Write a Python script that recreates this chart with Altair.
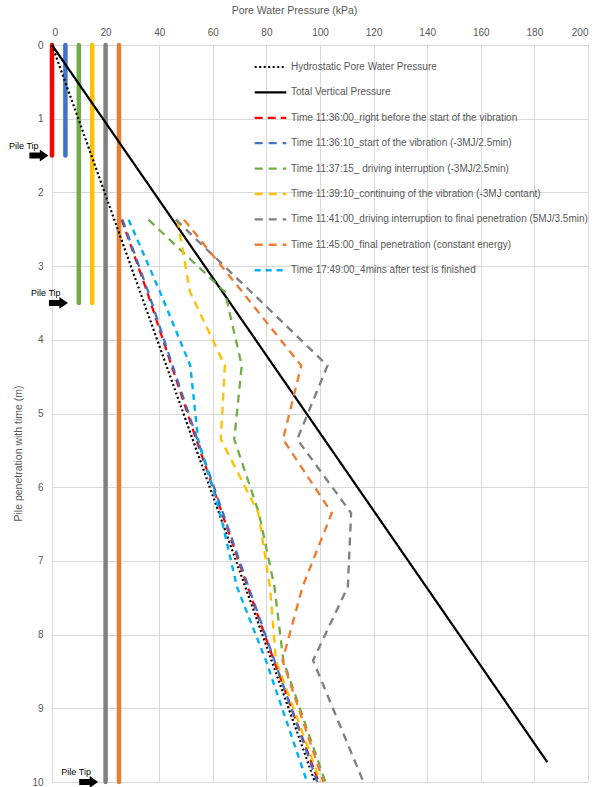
import altair as alt
import pandas as pd

# Depths (m) of the pore pressure readings along the pile
depth = [2.37, 3.35, 4.35, 5.35, 6.35, 7.35, 8.35, 10.0]

# Pore water pressure (kPa) at each reading depth
p_113600 = [26.0, 35.5, 44.6, 53.8, 63.4, 73.0, 82.8, 99.5]
p_113610 = [26.3, 35.9, 45.0, 54.2, 63.8, 73.3, 83.0, 99.0]
p_113715 = [36.0, 64.5, 70.8, 68.0, 77.2, 83.0, 86.3, 102.0]
p_113910 = [46.8, 51.5, 64.5, 63.0, 77.0, 81.3, 83.6, 100.2]
p_114100 = [46.2, 74.3, 102.8, 91.5, 111.6, 110.4, 97.4, 116.2]
p_114500 = [49.3, 71.0, 93.0, 86.2, 104.4, 93.5, 86.0, 101.3]
p_174900 = [28.6, 40.3, 51.6, 54.5, 62.7, 69.0, 79.8, 95.2]

# Hydrostatic pore water pressure
hydro_depth = [0, 1, 2, 3, 4, 5, 6, 7, 8, 9, 10]
hydro_pwp = [0.0, 9.81, 19.62, 29.43, 39.24, 49.05, 58.86, 68.67, 78.48, 88.29, 98.1]

# Total vertical pressure
total_depth = [0.0, 9.73]
total_pressure = [0.0, 184.8]

# Pile position bars for each stage
bar_pressure = [0, 5, 10, 15, 20, 25]
bar_depth_end = [1.5, 1.5, 3.5, 3.5, 10.0, 10.0]
bar_colors = ["#FF0000", "#4472C4", "#70AD47", "#FFC000", "#808080", "#ED7D31"]

# Pile tip markers
tip_depth = [1.5, 3.5, 10.0]
tip_arrow_x = [-4.9, 2.4, 13.7]
tip_label_x = [-10.5, -2.3, 9.0]

series_names = [
    "Hydrostatic Pore Water Pressure",
    "Total Vertical Pressure",
    "Time 11:36:00_right before the start of the vibration",
    "Time 11:36:10_start of the vibration (-3MJ/2.5min)",
    "Time 11:37:15_ driving interruption (-3MJ/2.5min)",
    "Time 11:39:10_continuing of the vibration  (-3MJ contant)",
    "Time 11:41:00_driving interruption to final penetration (5MJ/3.5min)",
    "Time 11:45:00_final penetration (constant energy)",
    "Time 17:49:00_4mins after test is finished",
]
series_colors = ["#000000", "#000000", "#FF0000", "#4472C4", "#70AD47",
                 "#FFC000", "#808080", "#ED7D31", "#00B0F0"]
series_dash = [[2, 2.5], [1, 0], [8, 5], [8, 6], [8, 6], [8, 6], [8, 6], [8, 6], [6, 5]]
series_width = [2.2, 2.4, 2.6, 2.6, 3.0, 2.6, 3.0, 3.0, 2.0]

rows = []
for d, p in zip(hydro_depth, hydro_pwp):
    rows.append({"series": series_names[0], "depth": d, "pressure": p})
for d, p in zip(total_depth, total_pressure):
    rows.append({"series": series_names[1], "depth": d, "pressure": p})
for name, vals in zip(series_names[2:], [p_113600, p_113610, p_113715, p_113910,
                                          p_114100, p_114500, p_174900]):
    for d, p in zip(depth, vals):
        rows.append({"series": name, "depth": d, "pressure": p})
lines_df = pd.DataFrame(rows)

bars_df = pd.DataFrame({
    "pressure": bar_pressure,
    "depth": [0.0] * len(bar_pressure),
    "depth_end": bar_depth_end,
    "color": bar_colors,
})

tips_df = pd.DataFrame({
    "pressure": tip_arrow_x,
    "label_x": tip_label_x,
    "depth": tip_depth,
    "label": ["Pile Tip"] * len(tip_depth),
})

FONT = "Liberation Sans"
GREY = "#595959"

x_enc = alt.X(
    "pressure:Q",
    scale=alt.Scale(domain=[0, 200], nice=False, zero=False),
    axis=alt.Axis(
        orient="top", values=list(range(0, 201, 20)), format="d",
        title="Pore Water Pressure (kPa)",
        labelPadding=8, titleX=242, titleY=-35, titleBaseline="middle",
    ),
)
y_enc = alt.Y(
    "depth:Q",
    scale=alt.Scale(domain=[0, 10], reverse=True, nice=False, zero=False),
    axis=alt.Axis(
        values=list(range(0, 11)), format="d", title="Pile penetration with time (m)",
        labelPadding=9, titleX=-29, titleY=408, titleAngle=-90,
    ),
)

legend = alt.Legend(
    orient="none", legendX=201, legendY=16, title=None,
    symbolType="stroke", symbolSize=1000, clipHeight=12, rowPadding=13.4,
    labelFont=FONT, labelFontSize=10, labelColor=GREY, labelOffset=3,
    labelLimit=500, padding=0,
)

bars = alt.Chart(bars_df).mark_rule(strokeWidth=4.5, strokeCap="round").encode(
    x=x_enc,
    y=y_enc,
    y2="depth_end:Q",
    color=alt.Color("color:N", scale=None),
)

lines = alt.Chart(lines_df).mark_line().encode(
    x="pressure:Q",
    y="depth:Q",
    color=alt.Color("series:N", scale=alt.Scale(domain=series_names, range=series_colors),
                    legend=legend),
    strokeDash=alt.StrokeDash("series:N", scale=alt.Scale(domain=series_names, range=series_dash),
                              legend=legend),
    strokeWidth=alt.StrokeWidth("series:N", scale=alt.Scale(domain=series_names, range=series_width),
                                legend=legend),
    order=alt.Order("depth:Q"),
)

arrow_path = "M-1,-0.32 L0.1,-0.32 L0.1,-0.62 L1,0 L0.1,0.62 L0.1,0.32 L-1,0.32 Z"
arrows = alt.Chart(tips_df).mark_point(
    shape=arrow_path, filled=True, size=361, color="#000000", opacity=1, strokeWidth=0
).encode(x="pressure:Q", y="depth:Q")

tip_labels = alt.Chart(tips_df).mark_text(
    font=FONT, fontSize=9, color="#000000", dy=-10, align="center"
).encode(x="label_x:Q", y="depth:Q", text="label:N")

chart = alt.layer(bars, lines, arrows, tip_labels).properties(
    width=536, height=737,
    autosize=alt.AutoSizeParams(type="none"),
    padding={"left": 52, "top": 45, "right": 14, "bottom": 5},
).configure_view(
    strokeWidth=0
).configure_axis(
    grid=True, gridColor="#D9D9D9", gridWidth=1, domain=False, ticks=False,
    labelFont=FONT, labelFontSize=10, labelColor=GREY,
    titleFont=FONT, titleFontSize=10.5, titleFontWeight="normal", titleColor=GREY,
)

chart.save("out.html", embed_options={"renderer": "svg", "actions": False})
